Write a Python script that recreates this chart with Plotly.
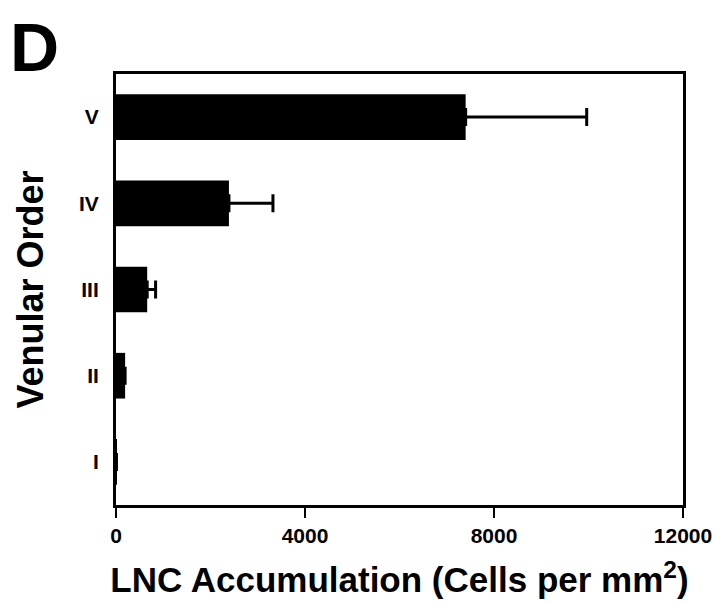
import plotly.graph_objects as go

categories = ["I", "II", "III", "IV", "V"]
values = [10, 193, 660, 2390, 7400]
errors = [None, None, 178, 932, 2562]
x_ticks = [0, 4000, 8000, 12000]

FONT = "Liberation Sans"

fig = go.Figure()
fig.add_trace(go.Bar(
    y=categories,
    x=values,
    orientation="h",
    marker=dict(color="black", line=dict(width=0)),
    width=0.53,
    error_x=dict(type="data", array=errors, symmetric=False,
                 arrayminus=[0] * len(errors),
                 color="black", thickness=3, width=9, visible=True),
))

# page body adds an 8px margin, so the figure is sized 712x598
fig.update_layout(
    width=712, height=598,
    margin=dict(l=108, r=37, t=66, b=101, autoexpand=False),
    paper_bgcolor="white", plot_bgcolor="white",
    showlegend=False,
    font=dict(family=FONT, color="black"),
    xaxis=dict(
        range=[0, 12000], tickvals=x_ticks, ticktext=[str(v) for v in x_ticks],
        ticks="outside", ticklen=10, tickwidth=2, tickcolor="black",
        showline=True, linewidth=3, linecolor="black", mirror=True,
        showgrid=False, zeroline=False, automargin=False,
        tickfont=dict(family=FONT, size=21, color="black", weight="bold"),
        title=dict(text="<b>LNC Accumulation (Cells per mm<sup>2</sup>)</b>",
                   font=dict(family=FONT, size=35, color="black"), standoff=22),
    ),
    yaxis=dict(
        categoryorder="array", categoryarray=categories,
        range=[-0.5, 4.5], automargin=False,
        ticks="", showline=True, linewidth=3, linecolor="black", mirror=True,
        showgrid=False, zeroline=False, ticklabelstandoff=10,
        tickfont=dict(family=FONT, size=21, color="black", weight="bold"),
    ),
    annotations=[
        dict(text="<b>Venular Order</b>", x=0, y=0.5, xref="paper", yref="paper",
             xanchor="center", yanchor="middle", textangle=-90, showarrow=False,
             borderpad=0,
             font=dict(family=FONT, size=36, color="black"), xshift=-86),
        dict(text="<b>D</b>", x=0, y=1, xref="paper", yref="paper",
             xanchor="left", yanchor="top", showarrow=False, borderpad=0,
             font=dict(family=FONT, size=68, color="black"),
             xshift=-107, yshift=66),
    ],
)

fig.write_html("out.html")
